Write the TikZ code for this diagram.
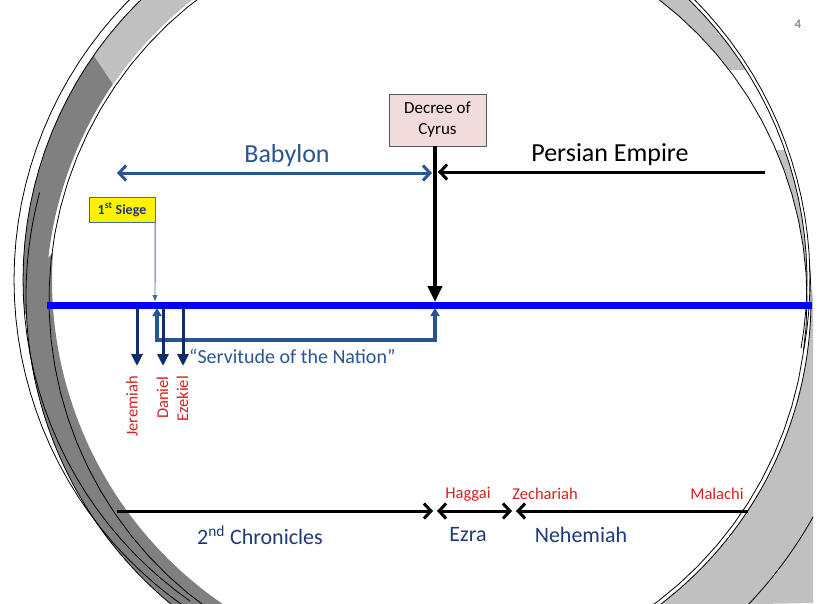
\documentclass[tikz,border=0pt]{standalone}
\usepackage{fontspec}
\setmainfont{Carlito}
\usetikzlibrary{arrows.meta}
\definecolor{steel}{HTML}{2A5592}
\definecolor{navy}{HTML}{0F2D6B}
\definecolor{textnavy}{HTML}{1F3A78}
\definecolor{redlbl}{HTML}{D42020}
\definecolor{decreefill}{HTML}{F2DCDB}
\definecolor{timelineblue}{RGB}{0,0,255}
\definecolor{bandlight}{HTML}{C0C0C0}
\definecolor{banddark}{HTML}{808080}
\definecolor{siegeedge}{HTML}{4A6A9A}
\definecolor{pagegray}{HTML}{8C8C8C}
% sampled circular arcs: {centre x}{centre y}{radius}{from angle}{to angle}
\newcommand\arcfirst[5]{plot[domain=#4:#5,samples=90] ({#1+#3*cos(\x)},{#2+#3*sin(\x)})}
\newcommand\arcnext[5]{-- plot[domain=#4:#5,samples=90] ({#1+#3*cos(\x)},{#2+#3*sin(\x)})}
\begin{document}
% coordinates in pt, origin at the top-left corner, rows are negative
\begin{tikzpicture}[x=1pt,y=1pt,
  fs/.style={font=\fontsize{#1}{#1}\selectfont},
  ring/.style={line width=0.8pt,black},
  barb/.style={-{Straight Barb[length=7pt,width=15pt]}},
  barbboth/.style={{Straight Barb[length=7pt,width=15pt]}-{Straight Barb[length=7pt,width=15pt]}},
  prophetarrow/.style={navy,line width=3pt,-{Triangle[length=12pt,width=11pt]}},
  prophet/.style={fs=16.5,text=redlbl,inner sep=0pt},
  book/.style={fs=22,text=textnavy,inner sep=0pt},
  bookline/.style={line width=3pt,black}]
\useasboundingbox (0,0) rectangle (819,-603);
\fill[white] (0,0) rectangle (819,-603);

% ---------- circular frame ----------
\begin{scope}
  \clip (0,0) rectangle (813,-603);
  % upper-left band: outer arc down the left, inner arc back up
  \fill[banddark] \arcfirst{415}{-280}{392}{100}{185} \arcnext{428}{-300}{382}{180}{97} -- cycle;
  \begin{scope}
    \clip (35,5) -- (300,5) -- (300,-340) -- (125,-340) -- (125,-102) -- (90,-50) -- cycle;
    \fill[bandlight] \arcfirst{415}{-280}{392}{100}{185} \arcnext{428}{-300}{382}{180}{97} -- cycle;
  \end{scope}
  % lower-left band
  \fill[banddark] \arcfirst{426}{-296}{400}{178}{232} \arcnext{445}{-280}{393}{236}{176} -- cycle;
  % upper-right band, shaded near the top and near the right side
  \begin{scope}
    \clip (560,5) rectangle (820,-70) (700,-150) rectangle (820,-290);
    \fill[bandlight] \arcfirst{415}{-280}{392}{70}{2} \arcnext{428}{-300}{379}{0}{62} -- cycle;
  \end{scope}
  % lower-right band, out to the slide edge
  \fill[bandlight] \arcfirst{428}{-300}{383}{-2}{-53} -- (813,-603) -- (813,-290) -- cycle;
  % ring outlines
  \draw[ring] \arcfirst{428}{-300}{379}{0}{360};
  \draw[ring] \arcfirst{415}{-280}{392}{-10}{235};
  \draw[ring] \arcfirst{412}{-280}{398}{-10}{235};
  \draw[ring] \arcfirst{426}{-296}{400}{165}{240};
  \draw[ring] \arcfirst{428}{-300}{383}{5}{-60};
  \draw[ring] \arcfirst{428}{-300}{442}{-25}{-50};
\end{scope}

% page number
\node[font=\fontsize{13}{13}\selectfont\bfseries,text=pagegray] (page) at (798,-24) {4};

% ---------- main timeline ----------
\coordinate (tlL) at (47,-305);
\coordinate (tlR) at (812,-305);
\draw[timelineblue,line width=7pt] (tlL) -- (tlR);

% Decree of Cyrus
\node[draw=black!65,fill=decreefill,font=\fontsize{17}{21}\selectfont,align=center,
      minimum width=97pt,minimum height=52pt,inner sep=2pt] (decree) at (437.5,-120) {Decree of\\Cyrus};
\coordinate (cyrus) at (435,-302);
\draw[black,line width=4pt,-{Triangle[length=16pt,width=14pt]}] (decree.south -| cyrus) -- (cyrus);

% Babylon / Persian Empire
\coordinate (babL) at (117,-173);
\coordinate (babR) at (432,-173);
\draw[steel,line width=3pt,barbboth] (babL) -- (babR);
\node[fs=26,text=steel] (babylon) at (287,-156) {Babylon};
\coordinate (perR) at (765,-172);
\coordinate (perL) at (438,-172);
\draw[black,line width=3pt,barb] (perR) -- (perL);
\node[fs=26] (persian) at (610,-155) {Persian Empire};

% 1st Siege
\node[draw=siegeedge,fill=yellow,font=\fontsize{14}{14}\selectfont\bfseries,text=textnavy,
      minimum width=66pt,minimum height=25pt,inner sep=1pt] (siege) at (122,-209.5) {1\textsuperscript{st} Siege};
\coordinate (siegeEnd) at (155,-301);
\draw[siegeedge,line width=0.9pt,-{Triangle[length=6pt,width=5pt]}] (siege.south east) -- (siegeEnd);

% Servitude of the Nation
\coordinate (svL) at (157,-308);
\coordinate (svB) at (157,-340);
\coordinate (svR) at (435,-308);
\draw[steel,line width=3.5pt,{Triangle[length=8pt,width=9pt]}-{Triangle[length=8pt,width=9pt]}]
  (svL) -- (svB) -| (svR);
\node[fs=20,text=steel,anchor=west,inner sep=0pt] (servitude) at (189,-356) {``Servitude of the Nation''};

% prophets of the exile
\coordinate (jerT) at (137,-308);
\coordinate (jerB) at (137,-366);
\coordinate (danT) at (163,-308);
\coordinate (danB) at (163,-366);
\coordinate (ezeT) at (183,-308);
\coordinate (ezeB) at (183,-366);
\draw[prophetarrow] (jerT) -- (jerB);
\draw[prophetarrow] (danT) -- (danB);
\draw[prophetarrow] (ezeT) -- (ezeB);
\node[prophet,rotate=90,anchor=east] (jeremiah) at (132,-376) {Jeremiah};
\node[prophet,rotate=90,anchor=east] (daniel) at (162.5,-376) {Daniel};
\node[prophet,rotate=90,anchor=east] (ezekiel) at (182.5,-376) {Ezekiel};

% ---------- books ----------
\coordinate (b0) at (117,-511);
\coordinate (b1) at (433,-511);
\coordinate (b2) at (437,-511);
\coordinate (b3) at (512,-511);
\coordinate (b4) at (516,-511);
\coordinate (b5) at (748,-511);
\draw[bookline,barb] (b0) -- (b1);
\draw[bookline,barbboth] (b2) -- (b3);
\draw[bookline,barb] (b5) -- (b4);

\node[book] (chron) at (260,-535) {2\textsuperscript{nd} Chronicles};
\node[book] (ezra) at (468,-535) {Ezra};
\node[book] (nehemiah) at (581,-535) {Nehemiah};

\node[prophet] (haggai) at (468,-494) {Haggai};
\node[prophet] (zechariah) at (545,-494) {Zechariah};
\node[prophet] (malachi) at (717,-494) {Malachi};
\end{tikzpicture}
\end{document}
